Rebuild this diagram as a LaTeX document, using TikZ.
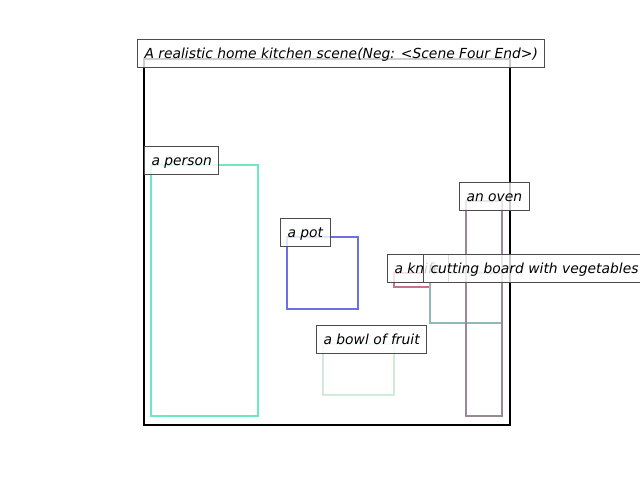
\documentclass[tikz,border=0pt]{standalone}
\usepackage{fontspec}
\setmainfont{DejaVu Sans}
\usepackage{tikz}

\definecolor{personc}{HTML}{6DE8C0}
\definecolor{potc}{HTML}{6E6EE8}
\definecolor{bowlc}{HTML}{D0ECD8}
\definecolor{knifec}{HTML}{C87090}
\definecolor{boardc}{HTML}{90B8B8}
\definecolor{ovenc}{HTML}{988898}

\tikzset{
  lbl/.style={draw=black!70, line width=0.75pt, fill=white, fill opacity=0.8, text opacity=1,
    font=\fontsize{10.4}{12}\itshape, anchor=south west, inner xsep=5.25pt, inner ysep=5.5pt,
    text height=8.8pt, text depth=1.2pt},
  obj/.style={line width=1.6pt}
}

\begin{document}
\begin{tikzpicture}[x=0.75pt,y=-0.75pt]
\useasboundingbox (0,0) rectangle (640,480);

% scene frame
\draw[line width=1.6pt] (144,59) rectangle (510,425);

% boxes of the objects
\draw[obj,personc] (151,165) rectangle (258,416);
\draw[obj,potc] (287,237) rectangle (358,309);
\draw[obj,bowlc] (323,344) rectangle (394,395);
\draw[obj,knifec] (394,273) rectangle (430,287);
\draw[obj,boardc] (430,273) rectangle (502,323);
\draw[obj,ovenc] (466,201) rectangle (502,416);

% labels
\node[lbl] (title) at (137,68) {A realistic home kitchen scene(Neg: <Scene Four End>)};
\node[lbl] (person) at (144,175) {a person};
\node[lbl] (pot) at (280,247) {a pot};
\node[lbl] (bowl) at (316,354) {a bowl of fruit};
\node[lbl] (knife) at (387,283) {a knife};
\node[lbl] (board) at (423,283) {cutting board with vegetables};
\node[lbl] (oven) at (459,211) {an oven};

\end{tikzpicture}
\end{document}
